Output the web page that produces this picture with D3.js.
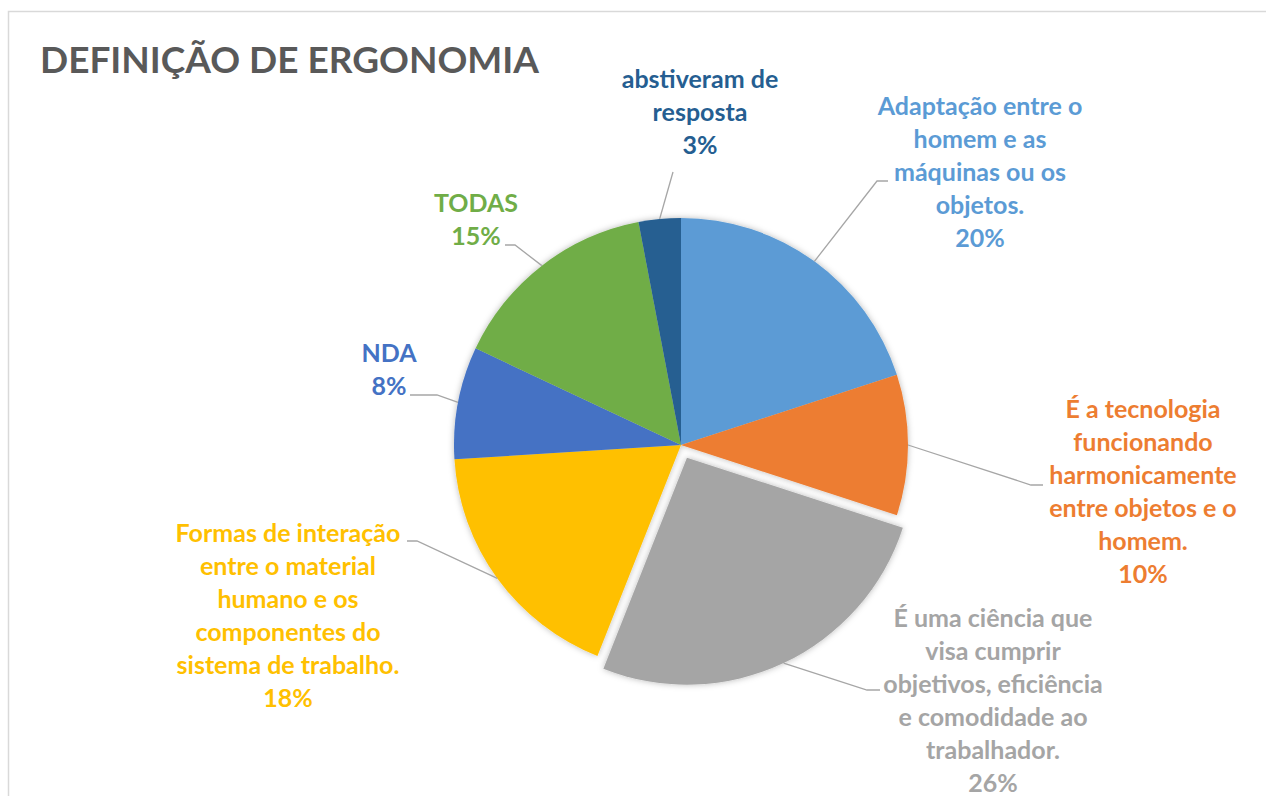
<!DOCTYPE html>
<html>
<head>
<meta charset="utf-8">
<script src="https://cdn.jsdelivr.net/npm/d3@7"></script>
<style>
  html, body { margin: 0; padding: 0; background: #fff; }
  svg { display: block; }
  text { font-family: Lato, "Open Sans", sans-serif; font-weight: bold; }
</style>
</head>
<body>
<script>
// chart data (percent answers)
var categories = [
  ["Adaptação entre o", "homem e as", "máquinas ou os", "objetos."],
  ["É a tecnologia", "funcionando", "harmonicamente", "entre objetos e o", "homem."],
  ["É uma ciência que", "visa cumprir", "objetivos, eficiência", "e comodidade ao", "trabalhador."],
  ["Formas de interação", "entre o material", "humano e os", "componentes do", "sistema de trabalho."],
  ["NDA"],
  ["TODAS"],
  ["abstiveram de", "resposta"]
]
var values = [20, 10, 26, 18, 8, 15, 3]
var colors = ["#5B9BD5", "#ED7D31", "#A5A5A5", "#FFC000", "#4472C4", "#70AD47", "#255E91"]
var explodedIndex = 2

// label placement: centre x, first baseline, leader line points (elbow, end)
var labelLayout = [
  {x: 980,  y: 115, leader: [[877, 181], [888, 181]]},
  {x: 1143, y: 418, leader: [[1031, 485], [1043, 485]]},
  {x: 993,  y: 627, leader: [[867, 690], [880, 690]]},
  {x: 288,  y: 542, leader: [[417, 541], [407, 541]]},
  {x: 389,  y: 362, leader: [[437, 395], [410, 395]]},
  {x: 476,  y: 212, leader: [[515, 245], [505, 245]]},
  {x: 700,  y: 88,  leader: [[673, 172]]}
]

var w = 1266, h = 796
var cx = 681, cy = 445, radius = 227, explode = 14, lineH = 33

var svg = d3.select("body").append("svg")
    .attr("width", w).attr("height", h)

var defs = svg.append("defs")
var f = defs.append("filter").attr("id", "shadow")
    .attr("x", "-20%").attr("y", "-20%").attr("width", "140%").attr("height", "140%")
f.append("feDropShadow").attr("dx", 0).attr("dy", 0)
    .attr("stdDeviation", 3).attr("flood-color", "#000").attr("flood-opacity", 0.28)

// chart area border
svg.append("rect")
    .attr("x", 8.5).attr("y", 11.5).attr("width", w + 20).attr("height", h + 20)
    .attr("fill", "none").attr("stroke", "#D9D9D9").attr("stroke-width", 1.5)

svg.append("text")
    .attr("x", 40).attr("y", 73)
    .attr("fill", "#595959").style("font-size", "37px")
    .text("DEFINIÇÃO DE ERGONOMIA")

var pie = d3.pie().sort(null).value(function(d) { return d })
var arcs = pie(values)
var arc = d3.arc().innerRadius(0).outerRadius(radius)

function offset(d, i) {
  if (i != explodedIndex) return [0, 0]
  var a = (d.startAngle + d.endAngle) / 2
  return [Math.sin(a) * explode, -Math.cos(a) * explode]
}

var g = svg.append("g").attr("transform", "translate(" + cx + "," + cy + ")")

g.append("g").attr("filter", "url(#shadow)")
  .selectAll("path")
  .data(arcs.filter(function(d, i) { return i != explodedIndex }))
  .enter().append("path")
    .attr("d", arc)
    .attr("fill", function(d) { return colors[d.index] })

g.append("g").attr("filter", "url(#shadow)")
  .selectAll("path")
  .data(arcs.filter(function(d, i) { return i == explodedIndex }))
  .enter().append("path")
    .attr("d", arc)
    .attr("transform", function(d) { var o = offset(d, d.index); return "translate(" + o[0] + "," + o[1] + ")" })
    .attr("fill", function(d) { return colors[d.index] })

// leader lines
svg.append("g").selectAll("path")
  .data(arcs)
  .enter().append("path")
    .attr("fill", "none").attr("stroke", "#A6A6A6").attr("stroke-width", 1.3)
    .attr("d", function(d, i) {
      var a = (d.startAngle + d.endAngle) / 2, o = offset(d, i)
      var start = [cx + o[0] + Math.sin(a) * radius, cy + o[1] - Math.cos(a) * radius]
      return d3.line()([start].concat(labelLayout[i].leader))
    })

// labels
var labels = svg.append("g").selectAll("text")
  .data(arcs)
  .enter().append("text")
    .attr("text-anchor", "middle")
    .attr("fill", function(d) { return colors[d.index] })
    .style("font-size", "25px")

labels.each(function(d, i) {
  var t = d3.select(this), lay = labelLayout[i]
  var lines = categories[i].concat([values[i] + "%"])
  lines.forEach(function(s, k) {
    t.append("tspan").attr("x", lay.x).attr("y", lay.y + k * lineH).text(s)
  })
})
</script>
</body>
</html>
